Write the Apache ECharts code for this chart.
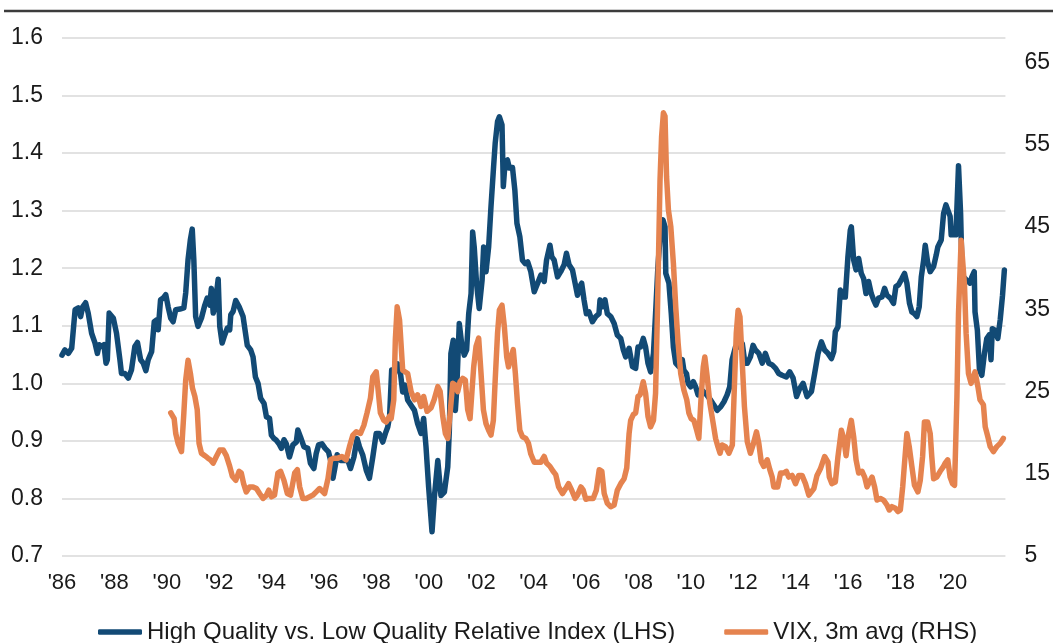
<!DOCTYPE html>
<html>
<head>
<meta charset="utf-8">
<script src="https://cdn.jsdelivr.net/npm/echarts@6/dist/echarts.min.js"></script>
<style>
html,body{margin:0;padding:0;background:#fff;}
#chart{width:1053px;height:643px;}
</style>
</head>
<body>
<div id="chart"></div>
<script>
// High Quality vs. Low Quality Relative Index (LHS) - decimal year / value
const hqYears = [1986.0,1986.11,1986.24,1986.37,1986.5,1986.62,1986.71,1986.79,1986.9,1987.0,1987.13,1987.26,1987.35,1987.42,1987.51,1987.6,1987.68,1987.73,1987.8,1987.96,1988.08,1988.21,1988.27,1988.4,1988.53,1988.65,1988.78,1988.88,1989.0,1989.1,1989.2,1989.29,1989.42,1989.52,1989.61,1989.67,1989.76,1989.86,1989.96,1990.05,1990.15,1990.24,1990.34,1990.5,1990.65,1990.72,1990.81,1990.9,1990.97,1991.03,1991.1,1991.19,1991.32,1991.45,1991.54,1991.64,1991.7,1991.77,1991.83,1991.96,1992.02,1992.11,1992.21,1992.31,1992.4,1992.44,1992.53,1992.63,1992.76,1992.91,1993.07,1993.2,1993.29,1993.38,1993.48,1993.58,1993.71,1993.8,1993.92,1993.99,1994.09,1994.18,1994.28,1994.37,1994.47,1994.56,1994.68,1994.81,1994.94,1995.0,1995.1,1995.23,1995.38,1995.48,1995.61,1995.7,1995.79,1995.92,1996.04,1996.17,1996.25,1996.34,1996.4,1996.5,1996.63,1996.76,1996.91,1997.01,1997.14,1997.26,1997.35,1997.48,1997.61,1997.73,1997.86,1997.99,1998.11,1998.24,1998.34,1998.43,1998.5,1998.58,1998.69,1998.81,1998.91,1999.0,1999.09,1999.19,1999.32,1999.45,1999.57,1999.7,1999.8,1999.89,1999.99,2000.12,2000.21,2000.34,2000.46,2000.59,2000.72,2000.78,2000.84,2000.93,2001.01,2001.06,2001.16,2001.25,2001.35,2001.44,2001.52,2001.61,2001.67,2001.73,2001.82,2001.92,2002.03,2002.09,2002.18,2002.28,2002.37,2002.47,2002.53,2002.62,2002.69,2002.79,2002.84,2002.91,2003.0,2003.07,2003.19,2003.28,2003.36,2003.47,2003.57,2003.68,2003.77,2003.89,2004.02,2004.15,2004.27,2004.4,2004.49,2004.62,2004.69,2004.78,2004.91,2005.03,2005.16,2005.25,2005.35,2005.48,2005.58,2005.67,2005.76,2005.83,2005.92,2006.01,2006.11,2006.24,2006.37,2006.49,2006.53,2006.62,2006.72,2006.81,2006.94,2007.07,2007.19,2007.32,2007.42,2007.51,2007.64,2007.77,2007.89,2007.98,2008.08,2008.18,2008.27,2008.36,2008.46,2008.57,2008.65,2008.74,2008.85,2008.93,2009.01,2009.04,2009.16,2009.25,2009.33,2009.42,2009.54,2009.67,2009.73,2009.83,2009.89,2009.99,2010.09,2010.18,2010.27,2010.37,2010.47,2010.6,2010.75,2010.88,2011.0,2011.13,2011.26,2011.38,2011.48,2011.57,2011.7,2011.83,2011.96,2012.06,2012.15,2012.27,2012.37,2012.46,2012.59,2012.72,2012.84,2012.97,2013.1,2013.23,2013.35,2013.48,2013.64,2013.77,2013.9,2014.03,2014.15,2014.28,2014.43,2014.6,2014.72,2014.85,2014.98,2015.1,2015.23,2015.36,2015.45,2015.51,2015.61,2015.7,2015.8,2015.89,2015.99,2016.08,2016.12,2016.21,2016.3,2016.4,2016.5,2016.59,2016.68,2016.78,2016.88,2016.97,2017.06,2017.16,2017.29,2017.39,2017.48,2017.61,2017.73,2017.82,2017.92,2018.05,2018.15,2018.24,2018.34,2018.43,2018.53,2018.62,2018.71,2018.79,2018.88,2018.94,2019.03,2019.13,2019.26,2019.36,2019.42,2019.55,2019.64,2019.73,2019.8,2019.89,2019.93,2020.02,2020.11,2020.21,2020.29,2020.34,2020.4,2020.53,2020.65,2020.72,2020.81,2020.84,2020.93,2021.01,2021.1,2021.2,2021.29,2021.38,2021.45,2021.5,2021.61,2021.71,2021.8,2021.89,2021.96];
const hqValues = [1.049,1.058,1.052,1.061,1.128,1.131,1.116,1.133,1.140,1.122,1.087,1.070,1.052,1.067,1.064,1.067,1.035,1.041,1.122,1.113,1.087,1.041,1.017,1.017,1.009,1.023,1.064,1.071,1.041,1.035,1.022,1.041,1.055,1.107,1.110,1.093,1.145,1.148,1.154,1.133,1.113,1.107,1.128,1.129,1.131,1.157,1.215,1.250,1.268,1.215,1.116,1.099,1.113,1.136,1.148,1.136,1.165,1.122,1.131,1.181,1.099,1.070,1.084,1.096,1.093,1.119,1.125,1.144,1.133,1.116,1.066,1.058,1.046,1.011,1.000,0.974,0.965,0.942,0.939,0.910,0.904,0.901,0.895,0.887,0.902,0.895,0.872,0.893,0.898,0.919,0.907,0.890,0.887,0.861,0.852,0.878,0.893,0.895,0.887,0.881,0.866,0.835,0.850,0.876,0.866,0.866,0.866,0.852,0.872,0.904,0.890,0.875,0.849,0.835,0.872,0.913,0.913,0.898,0.913,0.924,0.942,1.023,1.017,1.034,1.020,0.985,0.997,0.971,0.962,0.953,0.930,0.913,0.939,0.890,0.820,0.742,0.803,0.866,0.805,0.811,0.855,0.918,1.052,1.075,0.953,0.988,1.104,1.069,1.049,1.058,1.121,1.156,1.263,1.237,1.173,1.130,1.179,1.237,1.194,1.237,1.307,1.377,1.417,1.455,1.463,1.449,1.342,1.385,1.388,1.374,1.375,1.336,1.278,1.255,1.214,1.208,1.211,1.194,1.159,1.174,1.188,1.177,1.214,1.240,1.220,1.214,1.185,1.194,1.206,1.226,1.206,1.197,1.174,1.153,1.168,1.174,1.145,1.121,1.124,1.107,1.116,1.121,1.145,1.133,1.145,1.121,1.116,1.104,1.084,1.078,1.058,1.046,1.061,1.029,1.026,1.063,1.063,1.078,1.063,1.035,1.020,1.052,1.121,1.203,1.272,1.284,1.272,1.191,1.174,1.121,1.063,1.035,1.029,1.041,1.023,1.017,1.000,0.994,1.003,0.994,0.980,0.988,0.986,0.980,0.971,0.962,0.953,0.959,0.968,0.980,0.994,1.041,1.063,1.063,1.069,1.035,1.035,1.046,1.066,1.058,1.052,1.035,1.052,1.035,1.032,1.026,1.017,1.014,1.011,1.020,1.009,0.977,0.991,1.000,0.977,0.986,1.017,1.052,1.072,1.058,1.052,1.043,1.055,1.090,1.098,1.162,1.150,1.150,1.220,1.266,1.272,1.214,1.197,1.217,1.191,1.182,1.156,1.177,1.156,1.145,1.136,1.148,1.150,1.165,1.153,1.148,1.139,1.168,1.171,1.182,1.191,1.174,1.139,1.124,1.121,1.116,1.133,1.185,1.214,1.240,1.211,1.194,1.203,1.223,1.237,1.249,1.295,1.310,1.313,1.290,1.258,1.258,1.258,1.378,1.295,1.203,1.185,1.179,1.174,1.185,1.194,1.124,1.092,1.023,1.014,1.052,1.078,1.084,1.041,1.095,1.092,1.078,1.110,1.153,1.197];

// VIX, 3m avg (RHS) - decimal year / value
const vixYears = [1990.15,1990.28,1990.34,1990.43,1990.56,1990.65,1990.72,1990.81,1990.9,1990.98,1991.07,1991.16,1991.23,1991.32,1991.45,1991.57,1991.66,1991.77,1991.89,1992.02,1992.15,1992.27,1992.4,1992.5,1992.63,1992.76,1992.84,1992.93,1993.03,1993.16,1993.29,1993.42,1993.54,1993.67,1993.8,1993.89,1993.99,1994.11,1994.24,1994.34,1994.47,1994.6,1994.72,1994.88,1994.98,1995.07,1995.19,1995.32,1995.45,1995.57,1995.7,1995.83,1996.02,1996.15,1996.25,1996.37,1996.53,1996.68,1996.84,1996.97,1997.1,1997.23,1997.39,1997.52,1997.64,1997.77,1997.86,1997.99,1998.05,1998.15,1998.28,1998.37,1998.5,1998.56,1998.66,1998.72,1998.79,1998.88,1999.0,1999.19,1999.32,1999.45,1999.57,1999.7,1999.8,1999.93,2000.08,2000.2,2000.34,2000.43,2000.53,2000.63,2000.72,2000.81,2000.91,2001.01,2001.1,2001.19,2001.29,2001.39,2001.48,2001.57,2001.64,2001.71,2001.8,2001.9,2001.99,2002.08,2002.18,2002.28,2002.37,2002.46,2002.53,2002.62,2002.69,2002.79,2002.88,2002.97,2003.04,2003.13,2003.22,2003.3,2003.38,2003.47,2003.57,2003.7,2003.8,2003.89,2004.02,2004.15,2004.27,2004.4,2004.49,2004.62,2004.74,2004.84,2004.95,2005.1,2005.22,2005.33,2005.45,2005.58,2005.67,2005.8,2005.89,2005.99,2006.11,2006.27,2006.39,2006.5,2006.6,2006.69,2006.81,2006.94,2007.07,2007.19,2007.32,2007.45,2007.55,2007.64,2007.7,2007.8,2007.89,2007.98,2008.06,2008.18,2008.27,2008.36,2008.46,2008.57,2008.65,2008.72,2008.82,2008.88,2008.95,2009.01,2009.07,2009.14,2009.23,2009.33,2009.42,2009.51,2009.61,2009.73,2009.84,2009.92,2010.01,2010.11,2010.22,2010.3,2010.39,2010.47,2010.53,2010.62,2010.72,2010.85,2010.94,2011.03,2011.11,2011.19,2011.32,2011.45,2011.58,2011.64,2011.73,2011.8,2011.87,2011.96,2012.04,2012.15,2012.27,2012.37,2012.5,2012.59,2012.68,2012.78,2012.91,2013.01,2013.1,2013.16,2013.31,2013.42,2013.54,2013.64,2013.73,2013.86,2013.99,2014.11,2014.24,2014.37,2014.5,2014.56,2014.69,2014.81,2014.94,2015.1,2015.23,2015.28,2015.38,2015.51,2015.61,2015.74,2015.83,2015.92,2016.02,2016.12,2016.21,2016.3,2016.4,2016.53,2016.63,2016.72,2016.81,2016.91,2017.01,2017.1,2017.23,2017.35,2017.48,2017.57,2017.67,2017.8,2017.9,2017.99,2018.08,2018.15,2018.24,2018.33,2018.43,2018.53,2018.66,2018.75,2018.84,2018.91,2019.03,2019.13,2019.19,2019.26,2019.38,2019.51,2019.64,2019.7,2019.8,2019.89,2019.98,2020.06,2020.15,2020.21,2020.31,2020.37,2020.44,2020.5,2020.59,2020.69,2020.78,2020.84,2020.95,2021.03,2021.16,2021.23,2021.33,2021.42,2021.54,2021.67,2021.8,2021.92];
const vixValues = [22.4,21.7,19.9,18.7,17.7,22.4,26.4,28.8,27.2,25.4,24.4,22.8,18.7,17.5,17.2,16.9,16.7,16.3,17.1,17.9,17.9,17.2,15.9,14.7,14.2,15.3,15.1,13.8,12.8,13.4,13.4,13.2,12.6,12.0,12.4,13.0,12.2,12.4,15.1,15.3,14.2,12.6,12.4,15.1,15.5,13.4,12.0,12.0,12.2,12.4,12.8,13.2,12.6,14.4,16.7,16.9,16.9,17.1,16.7,18.3,19.7,20.1,19.9,20.9,22.4,24.2,26.8,27.4,25.6,22.4,21.5,21.3,22.0,21.7,24.0,31.3,35.3,33.7,27.6,27.2,25.0,24.0,24.6,23.2,24.4,22.6,23.0,24.0,25.6,25.0,22.0,19.9,19.3,22.4,26.0,25.8,25.0,26.2,26.6,26.4,22.8,21.7,21.5,28.0,30.5,31.5,27.2,22.8,21.1,20.3,19.7,21.5,26.4,32.1,34.9,35.5,32.9,29.2,28.0,29.2,30.1,27.2,23.6,20.3,19.5,19.3,18.7,17.4,16.4,16.4,16.4,17.1,16.3,15.9,15.3,14.9,13.4,12.6,13.2,13.8,13.0,12.0,12.4,13.4,13.0,11.9,12.0,12.0,13.0,15.5,15.3,12.6,11.4,11.0,11.2,13.0,13.8,14.4,15.7,19.9,21.5,22.2,22.4,24.4,24.6,26.2,24.8,22.0,20.7,21.5,24.8,34.5,50.7,56.0,58.9,58.5,51.1,47.1,45.1,40.6,35.3,30.9,27.2,25.2,24.0,22.4,21.7,21.5,20.3,19.3,24.4,28.0,29.2,26.8,23.6,21.1,19.3,18.3,17.5,18.5,18.3,17.5,18.5,24.0,32.1,34.9,34.1,28.4,23.2,18.9,17.5,18.5,20.1,18.7,16.5,15.9,16.7,15.5,14.6,13.4,13.4,15.1,15.1,15.3,14.6,14.8,13.8,14.8,14.8,13.8,12.4,12.2,13.2,14.8,15.6,17.1,16.4,14.6,13.8,14.0,17.1,20.3,19.3,17.2,19.9,21.5,19.5,16.7,15.1,15.3,14.6,13.4,14.0,14.6,13.4,11.8,12.0,11.8,11.2,10.6,11.0,10.8,10.4,10.6,13.4,16.3,19.9,18.3,15.9,13.6,12.8,14.2,17.1,21.3,21.3,19.9,17.1,14.4,14.6,15.3,15.9,16.3,16.7,14.6,13.8,13.6,24.4,34.5,43.4,43.4,37.8,32.1,27.2,26.0,26.8,27.4,25.6,24.0,23.4,20.7,19.5,18.3,17.7,18.3,18.7,19.3];

// Axis ticks
const xMin = 1986, xMax = 2022, xStep = 2;
const leftMin = 0.7, leftMax = 1.6, leftStep = 0.1;
const rightMin = 5, rightMax = 68, rightStep = 10;

const seriesNames = ['High Quality vs. Low Quality Relative Index (LHS)', 'VIX, 3m avg (RHS)'];
const BLUE = '#124A75', ORANGE = '#E5834F';
const FONT = 'Liberation Sans, Arial, sans-serif';

const hqData = hqYears.map((x, i) => [x, hqValues[i]]);
const vixData = vixYears.map((x, i) => [x, vixValues[i]]);

const chart = echarts.init(document.getElementById('chart'), null, {renderer: 'canvas'});
chart.setOption({
  animation: false,
  backgroundColor: '#ffffff',
  textStyle: {fontFamily: FONT},
  grid: {left: 62, right: 46, top: 38, bottom: 87, containLabel: false},
  graphic: [{
    type: 'line', shape: {x1: 4, y1: 11, x2: 1053, y2: 11},
    style: {stroke: '#3c3c3c', lineWidth: 2.5}
  }],
  legend: {
    left: 93, top: 615,
    itemWidth: 44, itemHeight: 5.5, itemGap: 49,
    icon: 'roundRect',
    textStyle: {fontSize: 24, color: '#1a1a1a', fontFamily: FONT, padding: [0,0,0,0]},
    data: seriesNames
  },
  xAxis: {
    type: 'value', min: xMin, max: xMax, interval: xStep,
    axisLine: {show: false}, axisTick: {show: false}, splitLine: {show: false},
    axisLabel: {
      fontSize: 22, color: '#1a1a1a', margin: 16, showMaxLabel: false,
      formatter: v => "'" + String(Math.round(v)).slice(2)
    }
  },
  yAxis: [{
    type: 'value', position: 'left', min: leftMin, max: leftMax, interval: leftStep,
    axisLine: {show: false}, axisTick: {show: false},
    splitLine: {show: true, lineStyle: {color: '#d9d9d9', width: 1.5}},
    axisLabel: {fontSize: 23, color: '#1a1a1a', margin: 19, formatter: v => v.toFixed(1)}
  }, {
    type: 'value', position: 'right', min: rightMin, max: rightMax, interval: rightStep,
    axisLine: {show: false}, axisTick: {show: false}, splitLine: {show: false},
    axisLabel: {fontSize: 23, color: '#1a1a1a', margin: 19, showMaxLabel: false,
      formatter: v => String(Math.round(v))}
  }],
  series: [{
    name: seriesNames[0], type: 'line', yAxisIndex: 0, data: hqData,
    showSymbol: false, symbol: 'none',
    lineStyle: {color: BLUE, width: 5.5, join: 'round', cap: 'round'},
    itemStyle: {color: BLUE}, z: 2
  }, {
    name: seriesNames[1], type: 'line', yAxisIndex: 1, data: vixData,
    showSymbol: false, symbol: 'none',
    lineStyle: {color: ORANGE, width: 5.5, join: 'round', cap: 'round'},
    itemStyle: {color: ORANGE}, z: 3
  }]
});
</script>
</body>
</html>
